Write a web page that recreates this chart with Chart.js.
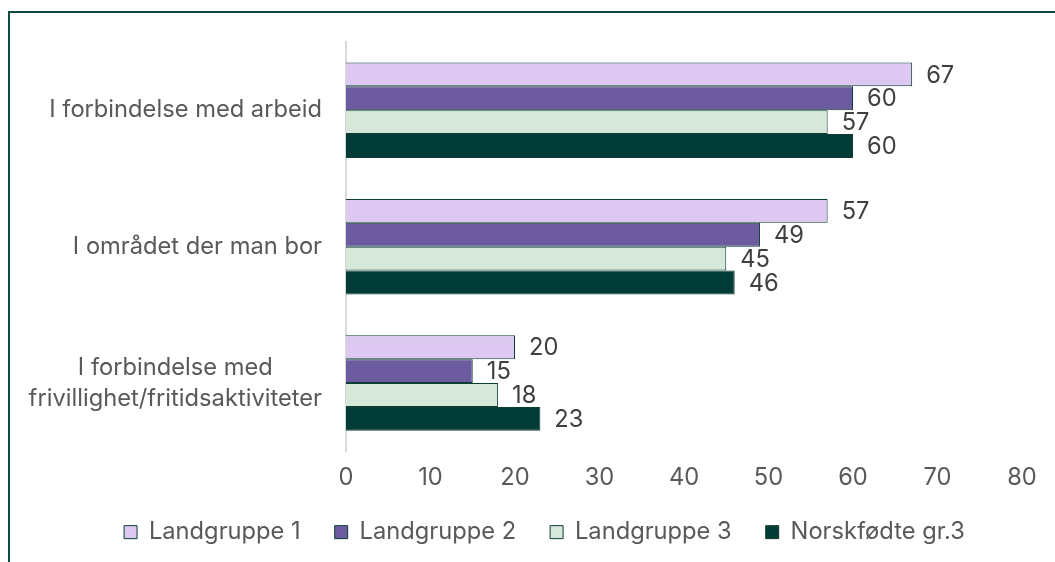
<!DOCTYPE html>
<html lang="no">
<head>
    <meta charset="UTF-8">
    <title>Kontakt med nordmenn</title>
    <script src="https://cdn.jsdelivr.net/npm/chart.js@4.4.1/dist/chart.umd.min.js"></script>
    <style>
        html, body { margin: 0; padding: 0; background: #fff; }
        .frame {
            position: absolute; left: 8px; top: 11px; width: 1100px; height: 600px;
            border-top: 2px solid #0d4a40; border-left: 2px solid #0d4a40;
        }
        .wrap { position: absolute; left: 0; top: 0; width: 1055px; height: 562px; }
    </style>
</head>
<body>
<div class="frame"></div>
<div class="wrap"><canvas id="myChart" width="1055" height="562"></canvas></div>

<script>
    // categories (y axis), one array of lines per label
    var categories = [
        ['I forbindelse med arbeid'],
        ['I området der man bor'],
        ['I forbindelse med', 'frivillighet/fritidsaktiviteter']
    ];
    var seriesNames = ['Landgruppe 1', 'Landgruppe 2', 'Landgruppe 3', 'Norskfødte gr.3'];
    var landgruppe1 = [67, 57, 20];
    var landgruppe2 = [60, 49, 15];
    var landgruppe3 = [57, 45, 18];
    var norskfodte = [60, 46, 23];
    var xMin = 0, xMax = 80, xStep = 10;

    var colors = ['#dcc8f0', '#6d5b9f', '#d5e8d9', '#003b35'];
    var edge = '#0b3d36';
    var FONT = 'Inter';
    var SIZE = 23.7;

    var seriesValues = [landgruppe1, landgruppe2, landgruppe3, norskfodte];
    var datasets = seriesNames.map(function (name, i) {
        return {
            label: name,
            data: seriesValues[i],
            backgroundColor: colors[i],
            borderColor: edge,
            borderWidth: 1,
            categoryPercentage: 0.7,
            barPercentage: 1.0
        };
    });

    // draws value labels at the end of each bar
    var valueLabels = {
        id: 'valueLabels',
        afterDatasetsDraw: function (chart) {
            var ctx = chart.ctx;
            ctx.save();
            ctx.font = SIZE + 'px ' + FONT;
            ctx.fillStyle = '#404040';
            ctx.textAlign = 'left';
            ctx.textBaseline = 'middle';
            chart.data.datasets.forEach(function (ds, i) {
                chart.getDatasetMeta(i).data.forEach(function (bar, j) {
                    ctx.fillText(ds.data[j], bar.x + 14, bar.y + 1);
                });
            });
            ctx.restore();
        }
    };

    // category labels: block right-aligned, lines centred within block
    var categoryLabels = {
        id: 'categoryLabels',
        afterDraw: function (chart) {
            var ctx = chart.ctx;
            var y = chart.scales.y;
            var right = chart.chartArea.left - 24;
            var lineH = 31;
            ctx.save();
            ctx.font = SIZE + 'px ' + FONT;
            ctx.fillStyle = '#595959';
            ctx.textAlign = 'center';
            ctx.textBaseline = 'middle';
            chart.data.labels.forEach(function (lines, i) {
                var widest = 0;
                lines.forEach(function (l) { widest = Math.max(widest, ctx.measureText(l).width); });
                var cx = right - widest / 2;
                var cy = y.getPixelForTick(i);
                var top = cy - (lines.length - 1) * lineH / 2;
                lines.forEach(function (l, k) {
                    ctx.fillText(l, cx, top + k * lineH);
                });
            });
            ctx.restore();
        }
    };

    var ctx = document.getElementById('myChart').getContext('2d');
    new Chart(ctx, {
        type: 'bar',
        data: { labels: categories, datasets: datasets },
        plugins: [valueLabels, categoryLabels],
        options: {
            indexAxis: 'y',
            responsive: false,
            animation: false,
            layout: { padding: { left: 67, right: 33, top: 42, bottom: 8 } },
            scales: {
                x: {
                    min: xMin,
                    max: xMax,
                    grid: { display: false, drawTicks: false },
                    border: { display: false },
                    ticks: {
                        stepSize: xStep,
                        padding: 12,
                        color: '#595959',
                        font: { family: FONT, size: SIZE }
                    },
                    afterFit: function (scale) { scale.height = 35; }
                },
                y: {
                    grid: { display: false, drawTicks: false },
                    border: { display: true, color: '#d9d9d9', width: 2 },
                    ticks: { display: false },
                    afterFit: function (scale) { scale.width = 279; }
                }
            },
            plugins: {
                tooltip: { enabled: false },
                legend: {
                    position: 'bottom',
                    labels: {
                        boxWidth: 13,
                        boxHeight: 13,
                        padding: 34,
                        color: '#595959',
                        font: { family: FONT, size: SIZE }
                    }
                }
            }
        }
    });
</script>
</body>
</html>
